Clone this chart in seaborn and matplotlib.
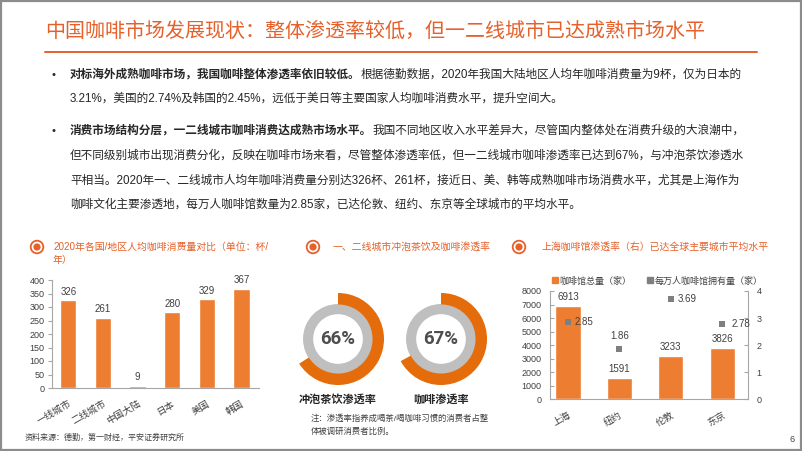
import numpy as np
import pandas as pd
import matplotlib
matplotlib.use("Agg")
import matplotlib.pyplot as plt
import seaborn as sns
from matplotlib.patches import Circle, Rectangle
from matplotlib.lines import Line2D

# ---------------- data ----------------
title = "中国咖啡市场发展现状：整体渗透率较低，但一二线城市已达成熟市场水平"

c1_cats = ["一线城市", "二线城市", "中国大陆", "日本", "美国", "韩国"]
c1_vals = [326, 261, 9, 280, 329, 367]

donut_labels = ["冲泡茶饮渗透率", "咖啡渗透率"]
donut_vals = [66, 67]

c3_cats = ["上海", "纽约", "伦敦", "东京"]
c3_shops = [6913, 1591, 3233, 3826]
c3_per10k = [2.85, 1.86, 3.69, 2.78]

sns.set_theme(style="white")
FAM = ["Liberation Sans", "Noto Sans CJK SC", "DejaVu Sans"]
plt.rcParams["font.family"] = FAM

ORANGE_T = "#E5602A"
ORANGE = "#ED7D31"
ORANGE_D = "#E46C0A"
GRAY = "#7F7F7F"
TXT = "#262626"
TICK = "#404040"

W, H = 802, 451
fig = plt.figure(figsize=(W / 100, H / 100), dpi=100)
fig.patch.set_facecolor("white")

def fbox(x, y, w, h):
    """pixel box (left, top, width, height) -> figure fraction rect"""
    return [x / W, (H - y - h) / H, w / W, h / H]

bg = fig.add_axes([0, 0, 1, 1], zorder=0)
bg.set_xlim(0, W)
bg.set_ylim(H, 0)
bg.axis("off")

# border
bg.add_patch(Rectangle((0.8, 0.8), W - 1.6, H - 1.6, fill=False, ec="#8C8C8C", lw=1.6))

# title
bg.text(45, 31, title, color=ORANGE_T, fontsize=14.4, va="center", ha="left",
        family=["Noto Sans CJK SC", "DejaVu Sans"])
bg.plot([45, 757], [52, 52], color=ORANGE_T, lw=1.4)

renderer = fig.canvas.get_renderer()

def rich(x, y, parts, size=8.4):
    cx = x
    for txt, bold in parts:
        t = bg.text(cx, y, txt, fontsize=size, color=TXT, va="center", ha="left",
                    fontweight="bold" if bold else "normal", family=FAM)
        bb = t.get_window_extent(renderer)
        cx = cx + bb.width  # 1 display px == 1 data unit
    return cx

# bullets
for by in (75, 131):
    bg.text(53, by, "•", fontsize=8, color=TXT, va="center", ha="center")

rich(70, 75, [("对标海外成熟咖啡市场，我国咖啡整体渗透率依旧较低。", True),
              ("根据德勤数据，2020年我国大陆地区人均年咖啡消费量为9杯，仅为日本的", False)])
rich(70, 99, [("3.21%，美国的2.74%及韩国的2.45%，远低于美日等主要国家人均咖啡消费水平，提升空间大。", False)])
rich(70, 131, [("消费市场结构分层，一二线城市咖啡消费达成熟市场水平。", True),
               ("我国不同地区收入水平差异大，尽管国内整体处在消费升级的大浪潮中，", False)])
rich(70, 156, [("但不同级别城市出现消费分化，反映在咖啡市场来看，尽管整体渗透率低，但一二线城市咖啡渗透率已达到67%，与冲泡茶饮渗透水", False)])
rich(70, 181, [("平相当。2020年一、二线城市人均年咖啡消费量分别达326杯、261杯，接近日、美、韩等成熟咖啡市场消费水平，尤其是上海作为", False)])
rich(70, 205, [("咖啡文化主要渗透地，每万人咖啡馆数量为2.85家，已达伦敦、纽约、东京等全球城市的平均水平。", False)])

# section headers
def icon(x, y):
    bg.add_patch(Circle((x, y), 6.3, fill=False, ec=ORANGE_T, lw=1.3))
    bg.add_patch(Circle((x, y), 3.6, color=ORANGE_T, lw=0))

for (ix, iy) in [(37, 247), (313, 247), (519, 247)]:
    icon(ix, iy)
hdr = dict(color=ORANGE_T, fontsize=7.1, va="center", ha="left", family=FAM)
bg.text(53, 247, "2020年各国/地区人均咖啡消费量对比（单位：杯/", **hdr)
bg.text(53, 260, "年）", **hdr)
bg.text(333, 247, "一、二线城市冲泡茶饮及咖啡渗透率", **hdr)
bg.text(541, 247, "上海咖啡馆渗透率（右）已达全球主要城市平均水平", **hdr)

# footer
bg.text(25, 438, "资料来源：德勤，第一财经，平安证券研究所", fontsize=5.8, color=TICK,
        va="center", ha="left", family=FAM)
bg.text(792, 440, "6", fontsize=6.5, color=TICK, va="center", ha="center")

# ---------------- chart 1 ----------------
ax1 = fig.add_axes(fbox(51.7, 280, 207, 108))
df1 = pd.DataFrame({"cat": c1_cats, "val": c1_vals})
sns.barplot(data=df1, x="cat", y="val", color=ORANGE, saturation=1, width=0.47, ax=ax1)
ax1.set_xlim(-0.48, 5.5)
ax1.set_ylim(0, 400)
ax1.set_yticks(np.arange(0, 401, 50))
ax1.set_xlabel("")
ax1.set_ylabel("")
for s in ("top", "right"):
    ax1.spines[s].set_visible(False)
for s in ("left", "bottom"):
    ax1.spines[s].set_color("#A6A6A6")
    ax1.spines[s].set_linewidth(0.8)
ax1.tick_params(axis="y", which="both", left=True, direction="out", length=3,
                width=0.8, color="#A6A6A6", labelsize=6.5, labelcolor=TICK, pad=2)
ax1.tick_params(axis="x", bottom=False, labelsize=6.8, labelcolor=TICK, pad=2)
ax1.set_xticks(range(len(c1_cats)))
ax1.set_xticklabels(c1_cats, rotation=30, ha="right", rotation_mode="anchor", family=FAM)
for i, v in enumerate(c1_vals):
    ax1.annotate(f"{v}", (i, v), xytext=(0, 2.5), textcoords="offset points",
                 ha="center", va="bottom", fontsize=7, color=TICK)
ax1.patch.set_alpha(0)

# ---------------- donuts ----------------
for (cx, lab, val) in zip([338, 441], donut_labels, donut_vals):
    axd = fig.add_axes(fbox(cx - 46, 339 - 46, 92, 92))
    axd.pie([1], radius=0.76, colors=["#BFBFBF"], startangle=90,
            wedgeprops=dict(width=0.22, linewidth=0))
    axd.pie([val, 100 - val], radius=1.0, colors=[ORANGE_D, (1, 1, 1, 0)],
            startangle=90, counterclock=False, wedgeprops=dict(width=0.25, linewidth=0))
    axd.set_xlim(-1, 1)
    axd.set_ylim(-1, 1)
    axd.set_aspect("equal")
    axd.axis("off")
    axd.text(0, 0, f"{val}%", ha="center", va="center", fontsize=13.5, fontweight="bold",
             color="#4D4D4D", family=["Roboto", "DejaVu Sans"])
    bg.text(cx, 399, lab, fontsize=8, fontweight="bold", color=TXT, ha="center", va="center",
            family=FAM)

bg.text(311, 419, "注：渗透率指养成喝茶/喝咖啡习惯的消费者占整", fontsize=6, color=TICK,
        va="center", ha="left", family=FAM)
bg.text(311, 432, "体被调研消费者比例。", fontsize=6, color=TICK, va="center", ha="left", family=FAM)

# ---------------- chart 3 ----------------
ax3 = fig.add_axes(fbox(550, 291, 198, 108.3))
df3 = pd.DataFrame({"cat": c3_cats, "shops": c3_shops})
sns.barplot(data=df3, x="cat", y="shops", color=ORANGE, saturation=1, width=0.49, ax=ax3)
ax3.set_xlim(-0.35, 3.5)
ax3.set_ylim(0, 8000)
ax3.set_yticks(np.arange(0, 8001, 1000))
ax3.set_xlabel("")
ax3.set_ylabel("")
ax3.spines["top"].set_visible(False)
ax3.spines["right"].set_visible(False)
for s in ("left", "bottom"):
    ax3.spines[s].set_color("#A6A6A6")
    ax3.spines[s].set_linewidth(0.8)
ax3.tick_params(axis="y", left=True, direction="in", length=3, width=0.8, color="#A6A6A6",
                labelsize=6.5, labelcolor=TICK, pad=6)
ax3.tick_params(axis="x", bottom=False, labelsize=6.8, labelcolor=TICK, pad=2)
ax3.set_xticks(range(len(c3_cats)))
ax3.set_xticklabels(c3_cats, rotation=30, ha="right", rotation_mode="anchor", family=FAM)
for i, v in enumerate(c3_shops):
    ax3.annotate(f"{v}", (i, v), xytext=(0, 2.5), textcoords="offset points",
                 ha="center", va="bottom", fontsize=7, color=TICK)

ax3r = ax3.twinx()
sns.scatterplot(x=np.arange(len(c3_cats)), y=c3_per10k, marker="s", color=GRAY, s=22,
                linewidth=0, ax=ax3r, zorder=5)
ax3r.set_ylim(0, 4)
ax3r.set_yticks(np.arange(0, 5, 1))
ax3r.set_xlim(-0.35, 3.5)
for s in ("top", "left", "bottom"):
    ax3r.spines[s].set_visible(False)
ax3r.spines["right"].set_color("#A6A6A6")
ax3r.spines["right"].set_linewidth(0.8)
ax3r.tick_params(axis="y", right=True, direction="in", length=3, width=0.8, color="#A6A6A6",
                 labelsize=6.5, labelcolor=TICK, pad=6)
ax3r.set_ylabel("")
offs = [(5, 0, "left", "center"), (0, 6, "center", "bottom"),
        (5, 0, "left", "center"), (7, 0, "left", "center")]
for i, v in enumerate(c3_per10k):
    dx, dy, ha, va = offs[i]
    ax3r.annotate(f"{v:.2f}", (i, v), xytext=(dx, dy), textcoords="offset points",
                  ha=ha, va=va, fontsize=7, color=TICK)

handles = [Line2D([], [], marker="s", ls="", color=ORANGE, markersize=4),
           Line2D([], [], marker="s", ls="", color=GRAY, markersize=4)]
fig.legend(handles, ["咖啡馆总量（家）", "每万人咖啡馆拥有量（家）"], ncol=2,
           loc="center left", bbox_to_anchor=(552 / W, 1 - 281 / H), frameon=False,
           handlelength=0.6, handletextpad=0.2, columnspacing=1.8,
           borderpad=0, borderaxespad=0, labelcolor=TICK, prop={"family": FAM, "size": 6.5})

fig.savefig("out.png", dpi=100)
